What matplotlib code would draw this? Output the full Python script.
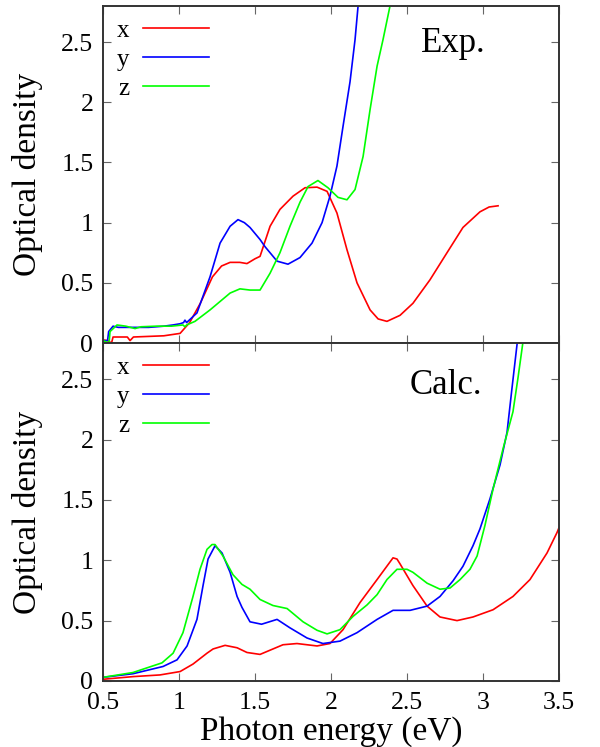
"""Optical density spectra: experiment (top) vs calculation (bottom), x/y/z polarisations."""
import matplotlib
matplotlib.use("Agg")
import matplotlib.pyplot as plt

plt.rcParams["font.family"] = ["Liberation Serif", "DejaVu Serif"]

# --- Exp. panel ---
exp_x_e = [0.50, 0.53, 0.556, 0.566, 0.60, 0.66, 0.678, 0.70, 0.80, 0.90, 1.007, 1.07,
           1.14, 1.22, 1.28, 1.336, 1.40, 1.447, 1.50, 1.533, 1.599, 1.664, 1.75, 1.829,
           1.908, 1.974, 2.039, 2.105, 2.171, 2.257, 2.31, 2.368, 2.454, 2.539, 2.651,
           2.763, 2.868, 2.980, 3.04, 3.099]
exp_x_od = [0.025, 0.02, 0.00, 0.05, 0.05, 0.05, 0.02, 0.05, 0.055, 0.06, 0.08, 0.17,
            0.33, 0.55, 0.64, 0.67, 0.67, 0.66, 0.70, 0.72, 0.97, 1.11, 1.22, 1.29,
            1.295, 1.26, 1.08, 0.775, 0.50, 0.275, 0.20, 0.18, 0.23, 0.33, 0.525,
            0.75, 0.96, 1.09, 1.13, 1.14]

exp_y_e = [0.50, 0.53, 0.537, 0.566, 0.60, 0.70, 0.80, 0.90, 0.96, 1.007, 1.03, 1.039,
           1.05, 1.118, 1.204, 1.27, 1.336, 1.388, 1.43, 1.467, 1.533, 1.566, 1.645,
           1.717, 1.796, 1.875, 1.941, 1.993, 2.039, 2.079, 2.125, 2.158, 2.178, 2.19]
exp_y_od = [0.02, 0.02, 0.095, 0.14, 0.13, 0.13, 0.13, 0.14, 0.15, 0.16, 0.17, 0.19,
            0.17, 0.25, 0.55, 0.83, 0.97, 1.025, 1.00, 0.96, 0.86, 0.80, 0.68,
            0.655, 0.71, 0.83, 1.0, 1.22, 1.47, 1.80, 2.17, 2.52, 2.80, 2.95]

exp_z_e = [0.50, 0.54, 0.546, 0.592, 0.65, 0.711, 0.75, 0.85, 0.95, 1.026, 1.039, 1.05,
           1.105, 1.204, 1.336, 1.401, 1.467, 1.533, 1.599, 1.664, 1.730, 1.796, 1.849,
           1.914, 1.980, 2.046, 2.105, 2.158, 2.211, 2.257, 2.303, 2.342, 2.388, 2.40]
exp_z_od = [0.02, 0.00, 0.095, 0.15, 0.14, 0.12, 0.135, 0.14, 0.14, 0.15, 0.135, 0.15,
            0.18, 0.275, 0.415, 0.45, 0.44, 0.44, 0.58, 0.75, 0.97, 1.17, 1.30,
            1.35, 1.29, 1.21, 1.19, 1.275, 1.55, 1.94, 2.30, 2.52, 2.80, 2.90]

# --- Calc. panel ---
calc_x_e = [0.50, 0.697, 0.875, 1.007, 1.092, 1.184, 1.224, 1.303, 1.382, 1.447, 1.533,
            1.684, 1.776, 1.908, 1.993, 2.079, 2.191, 2.303, 2.408, 2.434, 2.454, 2.520,
            2.539, 2.632, 2.717, 2.829, 2.934, 3.066, 3.197, 3.309, 3.421, 3.487, 3.50]
calc_x_od = [0.014, 0.036, 0.05, 0.078, 0.14, 0.23, 0.265, 0.295, 0.275, 0.236, 0.22,
             0.30, 0.31, 0.29, 0.31, 0.425, 0.65, 0.84, 1.02, 1.01, 0.97, 0.83,
             0.79, 0.62, 0.53, 0.50, 0.53, 0.59, 0.70, 0.84, 1.06, 1.23, 1.27]

calc_y_e = [0.50, 0.697, 0.895, 0.987, 1.053, 1.118, 1.158, 1.191, 1.237, 1.283, 1.336,
            1.382, 1.414, 1.467, 1.543, 1.645, 1.730, 1.842, 1.947, 2.059, 2.171, 2.303,
            2.408, 2.520, 2.632, 2.717, 2.803, 2.868, 2.934, 2.980, 3.046, 3.112, 3.158,
            3.191, 3.224, 3.24]
calc_y_od = [0.03, 0.06, 0.12, 0.175, 0.29, 0.51, 0.79, 1.01, 1.12, 1.06, 0.90,
             0.70, 0.61, 0.49, 0.47, 0.51, 0.44, 0.356, 0.31, 0.33, 0.40, 0.51,
             0.585, 0.585, 0.62, 0.70, 0.83, 0.95, 1.12, 1.26, 1.51, 1.79, 2.06,
             2.43, 2.79, 2.95]

calc_z_e = [0.50, 0.697, 0.888, 0.961, 1.026, 1.092, 1.138, 1.184, 1.217, 1.237, 1.289,
            1.355, 1.414, 1.467, 1.533, 1.618, 1.711, 1.816, 1.908, 1.974, 2.059, 2.145,
            2.237, 2.303, 2.368, 2.434, 2.500, 2.539, 2.632, 2.717, 2.783, 2.849, 2.914,
            2.961, 3.013, 3.066, 3.132, 3.197, 3.230, 3.263, 3.28]
calc_z_od = [0.03, 0.07, 0.15, 0.23, 0.40, 0.70, 0.925, 1.09, 1.13, 1.13, 1.035,
             0.88, 0.80, 0.76, 0.675, 0.625, 0.60, 0.49, 0.42, 0.39, 0.425, 0.535,
             0.63, 0.715, 0.84, 0.925, 0.925, 0.90, 0.81, 0.76, 0.77, 0.84, 0.925,
             1.035, 1.29, 1.59, 1.925, 2.23, 2.51, 2.81, 2.95]

series_labels = ["x", "y", "z"]
series_colors = ["#ff0000", "#0000ff", "#00ff00"]
x_ticks = [0.5, 1, 1.5, 2, 2.5, 3, 3.5]
x_ticklabels = ["0.5", "1", "1.5", "2", "2.5", "3", "3.5"]
y_ticks = [0, 0.5, 1, 1.5, 2, 2.5]
y_ticklabels = ["0", "0.5", "1", "1.5", "2", "2.5"]

panels = [
    ("Exp.", [(exp_x_e, exp_x_od), (exp_y_e, exp_y_od), (exp_z_e, exp_z_od)]),
    ("Calc.", [(calc_x_e, calc_x_od), (calc_y_e, calc_y_od), (calc_z_e, calc_z_od)]),
]

fig = plt.figure(figsize=(6.0, 7.47), dpi=100)
ax_top = fig.add_axes([0.1717, 0.5408, 0.76, 0.4512])
ax_bot = fig.add_axes([0.1717, 0.0884, 0.76, 0.4525])

for ax, (tag, curves) in zip([ax_top, ax_bot], panels):
    for (e, od), lab, col in zip(curves, series_labels, series_colors):
        ax.plot(e, od, color=col, lw=1.2, label=lab)
    ax.set_xlim(0.5, 3.5)
    ax.set_ylim(0, 2.8)
    ax.set_xticks(x_ticks)
    ax.set_yticks(y_ticks)
    ax.set_yticklabels(y_ticklabels)
    ax.tick_params(direction="in", top=True, right=True, length=6, width=0.8,
                   color="#666666", labelsize=18.5)
    ax.tick_params(axis="y", pad=7)
    ax.tick_params(axis="x", pad=8)
    for sp in ax.spines.values():
        sp.set_linewidth(1.4)
        sp.set_color("#333333")
    ax.set_ylabel("Optical density", fontsize=24)
    ax.yaxis.set_label_coords(-0.132, 0.5)
    ax.text(0.84 if tag == "Exp." else 0.832, 0.89 if tag == "Exp." else 0.875, tag,
            transform=ax.transAxes, ha="right", va="center", fontsize=25)
    ax.legend(loc="upper left", bbox_to_anchor=(0.0, 1.0), markerfirst=False,
              frameon=False, fontsize=18, handlelength=2.65, handletextpad=0.55,
              labelspacing=0.25, borderaxespad=0.15)

ax_top.set_xticklabels([])
ax_bot.set_xticklabels(x_ticklabels)
ax_bot.set_xlabel("Photon energy (eV)", fontsize=24)
ax_bot.xaxis.set_label_coords(0.5, -0.105)

fig.savefig("out.png", dpi=100)
